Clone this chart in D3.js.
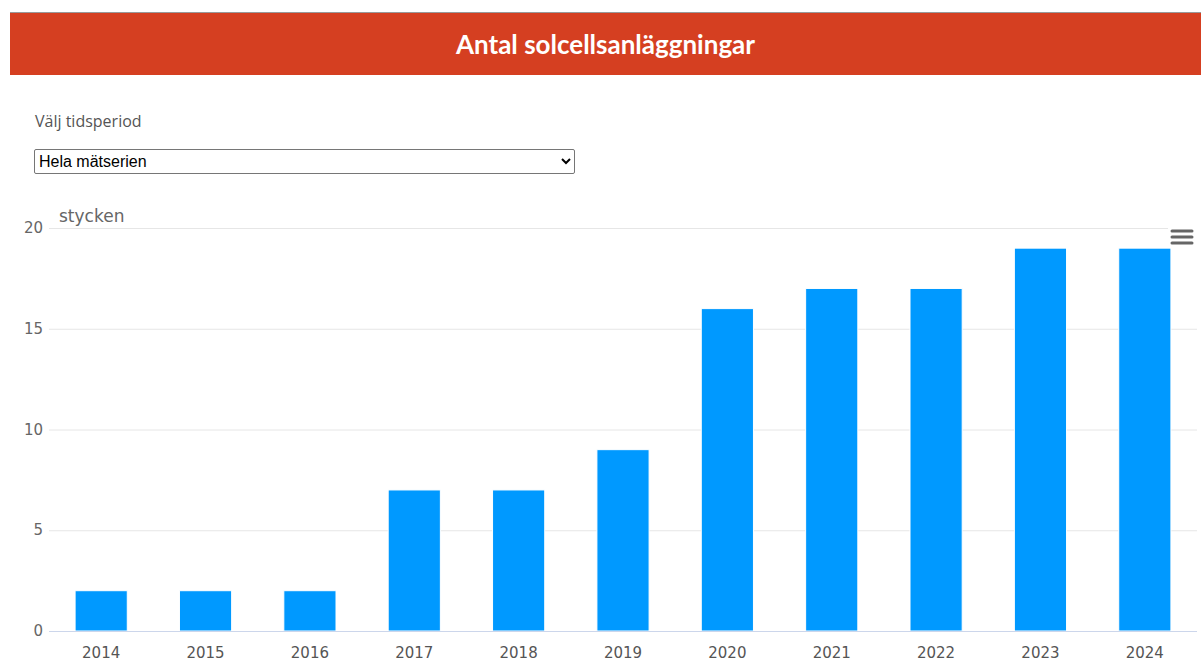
<!DOCTYPE html>
<html>
<head>
<meta charset="utf-8">
<script src="https://cdn.jsdelivr.net/npm/d3@7"></script>
<style>
  body { margin: 0; background: #fff; width: 1201px; height: 667px; overflow: hidden; position: relative; }
  #topline { position: absolute; left: 10px; top: 12px; width: 1191px; height: 1px; background: #999; }
  #header { position: absolute; left: 10px; top: 13px; width: 1191px; height: 62px; background: #d53f21;
            color: #fff; font-family: Lato, "Open Sans", sans-serif; font-weight: bold; font-size: 26px;
            text-align: center; line-height: 62px; }
  #lbl { position: absolute; left: 35px; top: 110px; font-family: "Open Sans", Lato, sans-serif; font-size: 16px; color: #555; }
  #sel { position: absolute; left: 34px; top: 149px; width: 541px; height: 25px; font-family: "Liberation Sans", Arial, sans-serif;
         font-size: 16px; color: #000; border: 1px solid #767676; border-radius: 2px; background: #fff; }
  svg { position: absolute; left: 0; top: 0; }
</style>
</head>
<body>
<div id="topline"></div>
<div id="header">Antal solcellsanläggningar</div>
<div id="lbl">Välj tidsperiod</div>
<select id="sel"><option>Hela mätserien</option></select>
<script>
var years = ["2014","2015","2016","2017","2018","2019","2020","2021","2022","2023","2024"];
var counts = [2, 2, 2, 7, 7, 9, 16, 17, 17, 19, 19];
var yTicks = [0, 5, 10, 15, 20];

var plotLeft = 49, plotRight = 1197, plotTop = 228, plotBottom = 631;

var svg = d3.select("body").append("svg")
    .attr("width", 1201)
    .attr("height", 667);

var x = d3.scaleBand().domain(years).range([plotLeft, plotRight]).padding(0);
var y = d3.scaleLinear().domain([0, 20]).range([plotBottom, plotTop]);
var barW = x.bandwidth() * 0.5;

// grid
svg.selectAll("line.grid")
    .data(yTicks.filter(function(d) { return d > 0; }))
  .enter().append("line")
    .attr("class", "grid")
    .attr("x1", plotLeft).attr("x2", plotRight)
    .attr("y1", function(d) { return y(d) + 0.5; })
    .attr("y2", function(d) { return y(d) + 0.5; })
    .attr("stroke", "#e6e6e6");

// y labels
svg.selectAll("text.ytick")
    .data(yTicks)
  .enter().append("text")
    .attr("class", "ytick")
    .attr("x", 43)
    .attr("y", function(d) { return y(d) + 5; })
    .attr("text-anchor", "end")
    .style("font-family", "DejaVu Sans, Verdana, sans-serif")
    .style("font-size", "15px")
    .style("fill", "#666")
    .text(function(d) { return d; });

svg.append("text")
    .attr("x", 59).attr("y", 222)
    .style("font-family", "DejaVu Sans, Verdana, sans-serif")
    .style("font-size", "17px")
    .style("fill", "#666")
    .text("stycken");

// bars
svg.selectAll("rect.bar")
    .data(counts)
  .enter().append("rect")
    .attr("class", "bar")
    .attr("x", function(d, i) { return x(years[i]) + (x.bandwidth() - barW) / 2; })
    .attr("y", function(d) { return y(d); })
    .attr("width", barW)
    .attr("height", function(d) { return plotBottom - y(d); })
    .attr("fill", "#0099ff")
    .attr("stroke", "#ffffff")
    .attr("stroke-width", 1);

// x axis line
svg.append("line")
    .attr("x1", plotLeft).attr("x2", plotRight)
    .attr("y1", plotBottom + 0.5).attr("y2", plotBottom + 0.5)
    .attr("stroke", "#ccd6eb");

svg.selectAll("text.xtick")
    .data(years)
  .enter().append("text")
    .attr("class", "xtick")
    .attr("x", function(d) { return x(d) + x.bandwidth() / 2; })
    .attr("y", 658)
    .attr("text-anchor", "middle")
    .style("font-family", "DejaVu Sans, Verdana, sans-serif")
    .style("font-size", "15px")
    .style("fill", "#555")
    .text(function(d) { return d; });

// menu button
var menu = svg.append("g").attr("transform", "translate(1168,226)");
menu.append("rect").attr("width", 29).attr("height", 22).attr("fill", "#fff");
[0, 6, 12].forEach(function(dy) {
  menu.append("line")
    .attr("x1", 4).attr("x2", 24)
    .attr("y1", 5 + dy).attr("y2", 5 + dy)
    .attr("stroke", "#666").attr("stroke-width", 3)
    .attr("stroke-linecap", "round");
});
</script>
</body>
</html>
